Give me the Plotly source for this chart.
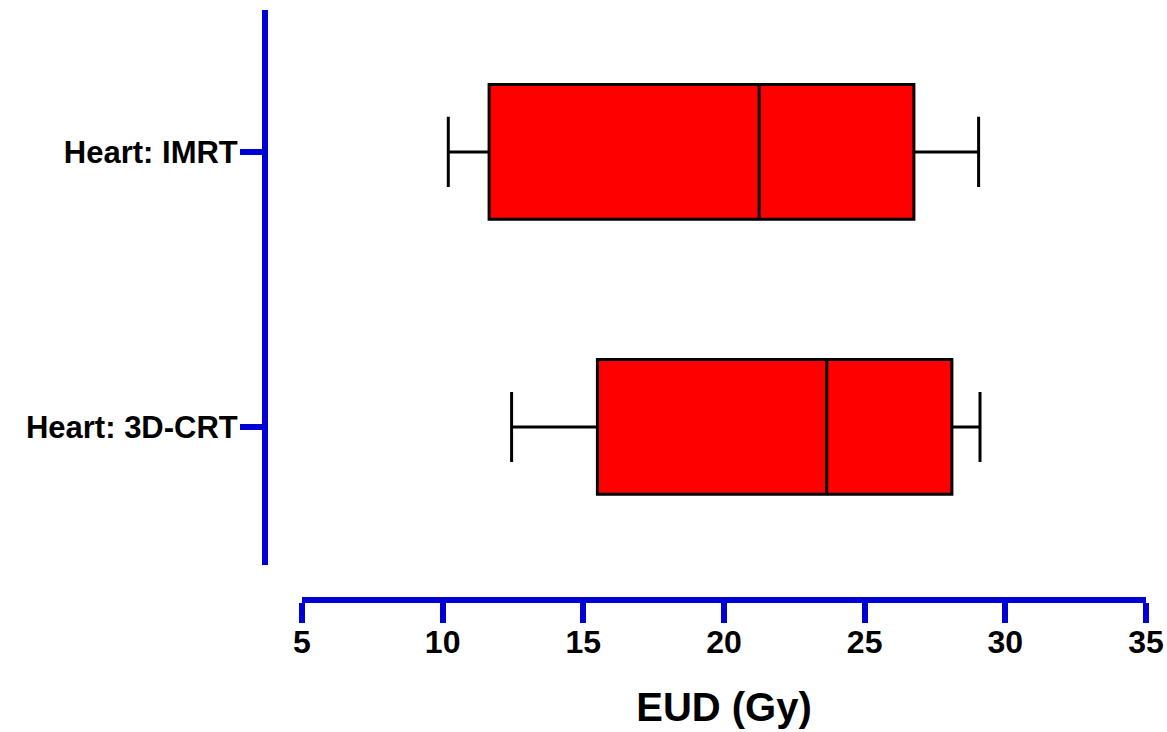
import plotly.graph_objects as go

categories = ["Heart: 3D-CRT", "Heart: IMRT"]
lower = [12.45, 10.2]
q1 = [15.5, 11.65]
median = [23.65, 21.25]
q3 = [28.1, 26.75]
upper = [29.1, 29.05]
x_ticks = [5, 10, 15, 20, 25, 30, 35]

W, H = 1167, 732
blue = "#0000D4"
FONT = "Liberation Sans, Arial, sans-serif"

fig = go.Figure()
fig.add_trace(go.Box(
    y=categories,
    q1=q1, median=median, q3=q3,
    lowerfence=lower, upperfence=upper,
    orientation="h",
    fillcolor="#FF0000",
    line=dict(color="black", width=3),
    whiskerwidth=0.52,
    width=0.49,
    boxpoints=False,
    showlegend=False,
    hoverinfo="skip",
))

fig.update_layout(
    width=W, height=H,
    margin=dict(l=0, r=0, t=0, b=0),
    paper_bgcolor="white", plot_bgcolor="white",
    font=dict(family=FONT, color="black"),
    xaxis=dict(
        domain=[302 / W, 1146 / W],
        range=[5, 35],
        tickvals=x_ticks,
        anchor="free", position=1 - 600 / H,
        showline=True, linecolor=blue, linewidth=6,
        ticks="outside", ticklen=20, tickwidth=6, tickcolor=blue,
        ticklabelstandoff=-8,
        showgrid=False, zeroline=False,
        tickfont=dict(size=32, family=FONT, color="black", weight="bold"),
        title=dict(text="<b>EUD (Gy)</b>", font=dict(size=40, family=FONT), standoff=33),
        automargin=False,
    ),
    yaxis=dict(
        domain=[1 - 565 / H, 1 - 10 / H],
        type="category",
        categoryorder="array", categoryarray=categories,
        range=[-0.502, 1.516],
        anchor="free", position=265 / W,
        showline=True, linecolor=blue, linewidth=6,
        ticks="outside", ticklen=22, tickwidth=6, tickcolor=blue,
        ticklabelstandoff=-4,
        showgrid=False, zeroline=False,
        tickfont=dict(size=31, family=FONT, color="black", weight="bold"),
        automargin=False,
    ),
)

fig.write_html("out.html", config={"displayModeBar": False},
               post_script="document.body.style.margin='0';")
